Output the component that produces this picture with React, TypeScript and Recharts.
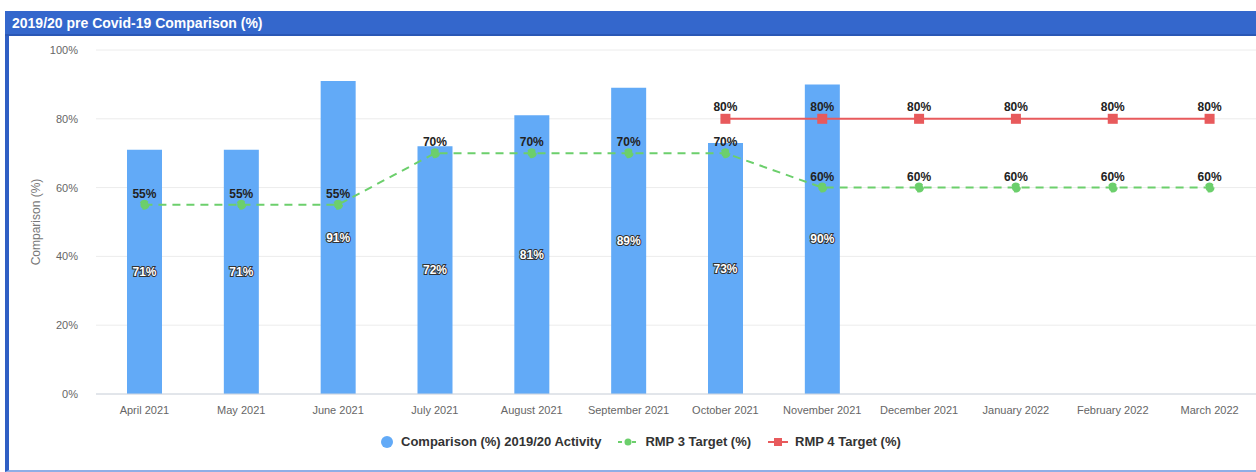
import {
  ComposedChart,
  Bar,
  Line,
  XAxis,
  YAxis,
  CartesianGrid,
  LabelList,
} from "recharts";

const MONTHS = [
  "April 2021", "May 2021", "June 2021", "July 2021", "August 2021", "September 2021",
  "October 2021", "November 2021", "December 2021", "January 2022", "February 2022", "March 2022",
];
const ACTIVITY = [71, 71, 91, 72, 81, 89, 73, 90, null, null, null, null];
const RMP3 = [55, 55, 55, 70, 70, 70, 70, 60, 60, 60, 60, 60];
const RMP4 = [null, null, null, null, null, null, 80, 80, 80, 80, 80, 80];
const Y_TICKS = [0, 20, 40, 60, 80, 100];

const FONT = "'Liberation Sans', Arial, sans-serif";
const BLUE = "#62aaf7";
const GREEN = "#6ccf6c";
const RED = "#e85a5c";

const data = MONTHS.map((month, i) => ({
  month,
  activity: ACTIVITY[i],
  rmp3: RMP3[i],
  rmp4: RMP4[i],
}));

const pct = (v: any) => (v == null ? "" : `${v}%`);

// square marker for the RMP 4 series
function SquareDot(props: any) {
  const { cx, cy, value } = props;
  if (value == null || cx == null || cy == null) return null;
  return <rect x={cx - 5} y={cy - 5} width={10} height={10} fill={RED} />;
}

function LegendRow() {
  const text = { fontSize: 13, fontWeight: 700, color: "#333" } as const;
  return (
    <div
      style={{
        position: "absolute",
        left: 380,
        top: 434,
        display: "flex",
        alignItems: "center",
        fontFamily: FONT,
        whiteSpace: "nowrap",
      }}
    >
      <svg width={14} height={14} style={{ marginRight: 7 }}>
        <circle cx={7} cy={7} r={6} fill={BLUE} />
      </svg>
      <span style={text}>Comparison (%) 2019/20 Activity</span>
      <svg width={22} height={14} style={{ marginLeft: 16, marginRight: 6 }}>
        <line x1={1} y1={7} x2={21} y2={7} stroke={GREEN} strokeWidth={2} strokeDasharray="4 3" />
        <circle cx={11} cy={7} r={3.5} fill={GREEN} />
      </svg>
      <span style={text}>RMP 3 Target (%)</span>
      <svg width={22} height={14} style={{ marginLeft: 16, marginRight: 6 }}>
        <line x1={1} y1={7} x2={21} y2={7} stroke={RED} strokeWidth={2} />
        <rect x={7} y={3} width={8} height={8} fill={RED} />
      </svg>
      <span style={text}>RMP 4 Target (%)</span>
    </div>
  );
}

export default function App() {
  return (
    <div
      style={{
        position: "absolute",
        left: 0,
        top: 0,
        width: 1256,
        height: 472,
        overflow: "hidden",
        background: "#fff",
        fontFamily: FONT,
      }}
    >
      {/* panel frame */}
      <div
        style={{
          position: "absolute",
          left: 5,
          top: 11,
          width: 1251,
          height: 461,
          borderLeft: "4px solid #2f5fc4",
          borderBottom: "2px solid #8eaee6",
          boxSizing: "border-box",
        }}
      />
      <div
        style={{
          position: "absolute",
          left: 5,
          top: 11,
          width: 1251,
          height: 25,
          background: "#3467cc",
          borderBottom: "2px solid #2a57b5",
          boxSizing: "border-box",
          color: "#fff",
          fontWeight: 700,
          fontSize: 14,
          lineHeight: "24px",
          paddingLeft: 7,
        }}
      >
        2019/20 pre Covid-19 Comparison (%)
      </div>

      <div style={{ position: "absolute", left: 0, top: 36 }}>
        <ComposedChart
          width={1258}
          height={390}
          data={data}
          margin={{ top: 14, right: 0, bottom: 0, left: 28 }}
          barCategoryGap={0}
        >
          <CartesianGrid vertical={false} stroke="#ececec" />
          <XAxis
            dataKey="month"
            interval={0}
            height={32}
            tickLine={false}
            axisLine={{ stroke: "#cfd6e0" }}
            tickMargin={6}
            tick={{ fontSize: 11, fill: "#666", fontFamily: FONT }}
          />
          <YAxis
            domain={[0, 100]}
            ticks={Y_TICKS}
            width={68}
            tickLine={false}
            axisLine={false}
            tickMargin={12}
            tickFormatter={(v: number) => `${v}%`}
            tick={{ fontSize: 11, fill: "#666", fontFamily: FONT }}
            label={{
              value: "Comparison (%)",
              angle: -90,
              position: "insideLeft",
              offset: 8,
              style: { textAnchor: "middle", fontSize: 12, fill: "#777", fontFamily: FONT },
            }}
          />
          <Bar dataKey="activity" fill={BLUE} barSize={35} isAnimationActive={false}>
            <LabelList
              dataKey="activity"
              position="center"
              formatter={pct}
              style={{
                fontSize: 12,
                fontWeight: 700,
                fill: "#fff",
                stroke: "#333",
                strokeWidth: 2,
                paintOrder: "stroke",
                fontFamily: FONT,
              }}
            />
          </Bar>
          <Line
            dataKey="rmp3"
            stroke={GREEN}
            strokeWidth={2}
            strokeDasharray="8 6"
            dot={{ r: 4, fill: GREEN, stroke: GREEN }}
            isAnimationActive={false}
          >
            <LabelList
              dataKey="rmp3"
              position="top"
              offset={7}
              formatter={pct}
              style={{ fontSize: 12, fontWeight: 700, fill: "#222", fontFamily: FONT }}
            />
          </Line>
          <Line
            dataKey="rmp4"
            stroke={RED}
            strokeWidth={2}
            dot={<SquareDot />}
            isAnimationActive={false}
          >
            <LabelList
              dataKey="rmp4"
              position="top"
              offset={8}
              formatter={pct}
              style={{ fontSize: 12, fontWeight: 700, fill: "#222", fontFamily: FONT }}
            />
          </Line>
        </ComposedChart>
      </div>

      <LegendRow />
    </div>
  );
}
